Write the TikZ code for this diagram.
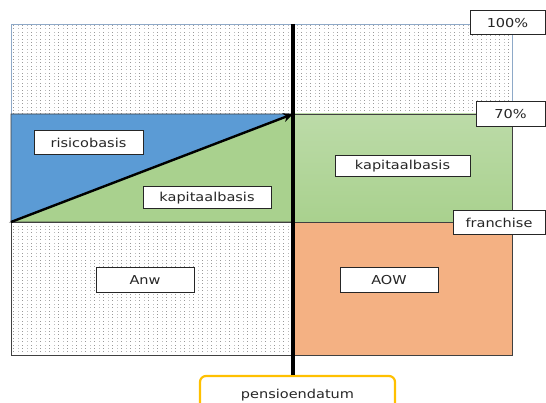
\documentclass[tikz,border=0pt]{standalone}
\usepackage{fontspec}
\setmainfont{DejaVu Sans}[FakeStretch=1.18]
\usetikzlibrary{patterns.meta,arrows.meta}
\definecolor{blueR}{HTML}{5B9BD5}
\definecolor{greenK}{HTML}{A9D18E}
\definecolor{greenT}{HTML}{BCDBA8}
\definecolor{orangeA}{HTML}{F4B183}
\definecolor{goldP}{HTML}{FFC000}
\definecolor{edgeB}{HTML}{8EA9C8}
\tikzdeclarepattern{
  name=gdots,
  type=uncolored,
  bounding box={(-0.5pt,-0.5pt) and (0.5pt,0.5pt)},
  tile size={(4.5pt,3.4pt)},
  code={\fill (-0.5pt,-0.5pt) rectangle (0.5pt,0.5pt);}
}
\tikzset{
  lbl/.style={draw=black!85, line width=1pt, fill=white, text=black!85, font=\fontsize{12.3}{13}\selectfont, inner sep=0pt, anchor=center},
  dotted area/.style={preaction={fill=white}, pattern=gdots, pattern color=black!40},
  region/.style={draw=black!75, line width=0.8pt}
}
\begin{document}
\begin{tikzpicture}[x=1pt,y=-1pt]
\useasboundingbox (0,0) rectangle (546,403);
\clip (0,0) rectangle (546,403);
% top dotted band
\path[dotted area, draw=edgeB, line width=0.8pt] (11,24) rectangle (512,114);
% left middle
\path[fill=blueR, region] (11,114) -- (293,114) -- (11,222) -- cycle;
\path[fill=greenK, region] (11,222) -- (293,114) -- (293,222) -- cycle;
% right middle
\path[top color=greenT, bottom color=greenK, region] (293,114) rectangle (512,222);
% bottom left dotted
\path[dotted area, region] (11,222) rectangle (293,355);
% bottom right orange
\path[fill=orangeA, region] (293,222) rectangle (512,355);
% labels
\node[lbl, minimum width=75pt, minimum height=24pt] (p100) at (507.5,23) {100\%};
\node[lbl, minimum width=69pt, minimum height=25pt] (p70) at (510.5,114.5) {70\%};
\node[lbl, minimum width=92pt, minimum height=24pt] (fr) at (499,223) {franchise};
\node[lbl, minimum width=135pt, minimum height=21pt] (kapR) at (402.5,166.5) {kapitaalbasis};
\node[lbl, minimum width=109pt, minimum height=24pt] (ris) at (88.5,143) {risicobasis};
\node[lbl, minimum width=128pt, minimum height=22pt] (kapL) at (207,198) {kapitaalbasis};
\node[lbl, minimum width=98pt, minimum height=25pt] (anw) at (145,280.5) {Anw};
\node[lbl, minimum width=98pt, minimum height=25pt] (aow) at (389,280.5) {AOW};
\node[draw=goldP, line width=2.2pt, rounded corners=6pt, fill=white, minimum width=195pt, minimum height=36pt, text=black!85, font=\fontsize{12.3}{13}\selectfont, text depth=0pt] (pens) at (297.5,394) {pensioendatum};
% axes
\coordinate (vtop) at (293,24);
\coordinate (start) at (11,222);
\coordinate (peak) at (293,114);
\draw[line width=3.5pt] (vtop) -- (vtop |- pens.north);
\draw[line width=2.4pt, -{Stealth[length=10pt,width=9pt]}] (start) -- (peak);
\end{tikzpicture}
\end{document}
